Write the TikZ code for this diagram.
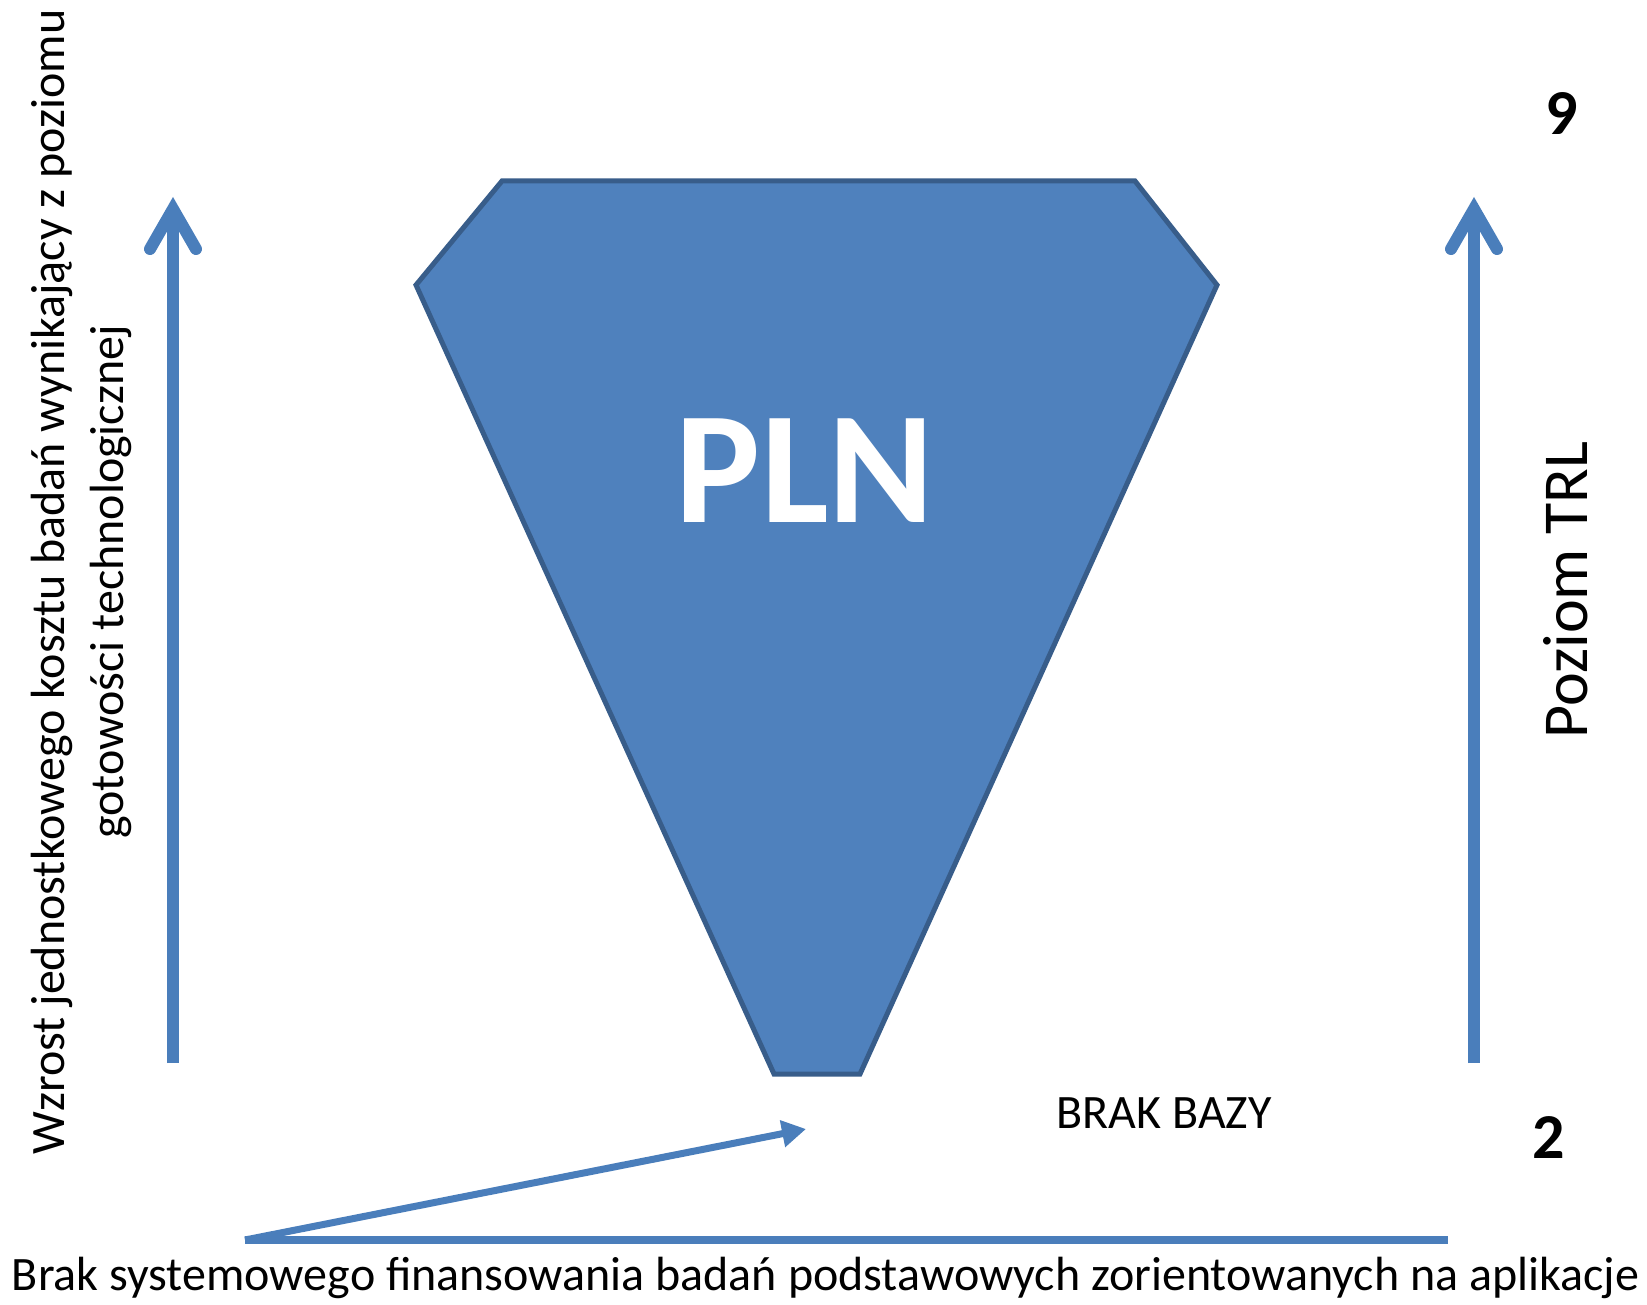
\documentclass[tikz,border=0pt]{standalone}
\usepackage{fontspec}
\setmainfont{Carlito}
\usetikzlibrary{arrows.meta}
\definecolor{arrowblue}{HTML}{4A7EBB}
\definecolor{shapefill}{HTML}{4F81BD}
\definecolor{shapeline}{HTML}{385D8A}
\begin{document}
\begin{tikzpicture}[x=1pt,y=-1pt,
  txt/.style={inner sep=0pt,outer sep=0pt,text=black},
  uparrow/.style={draw=arrowblue,line width=12pt,
    -{Straight Barb[length=40pt,width=46pt,line cap=round,line join=miter]}},
  baseline/.style={draw=arrowblue,line width=7.5pt},
  diagarrow/.style={draw=arrowblue,line width=7pt,-{Triangle[length=24pt,width=26pt]}},
  funnel/.style={fill=shapefill,draw=shapeline,line width=5pt,line join=miter}]
\useasboundingbox (0,0) rectangle (1647,1305);
\fill[white] (0,0) rectangle (1647,1305);
% funnel shape
\draw[funnel] (502,181) -- (1135,181) -- (1217,285) -- (860,1074) -- (774,1074) -- (416,285) -- cycle;
\node[txt,anchor=base,text=white,font=\fontsize{160}{190}\selectfont\bfseries] (pln) at (805,522) {PLN};
% vertical arrows
\coordinate (lb) at (173,1063);
\coordinate (lt) at (173,197);
\coordinate (rb) at (1474,1063);
\coordinate (rt) at (1474,197);
\draw[uparrow] (lb) -- (lt);
\draw[uparrow] (rb) -- (rt);
% bottom lines
\coordinate (o) at (245,1240);
\coordinate (e) at (1448,1240);
\coordinate (d) at (806,1129);
\draw[baseline] (o) -- (e);
\draw[diagarrow] (o) -- (d);
% texts
\node[txt,anchor=base,font=\fontsize{64}{77}\selectfont\bfseries] (nine) at (1562,135) {9};
\node[txt,anchor=base,font=\fontsize{64}{77}\selectfont\bfseries] (two) at (1549,1158) {2};
\node[txt,anchor=base,font=\fontsize{48}{58}\selectfont] (brak) at (1164,1128) {BRAK BAZY};
\node[txt,anchor=base west,font=\fontsize{48}{58}\selectfont] (bottom) at (12,1290) {Brak systemowego finansowania badań podstawowych zorientowanych na aplikacje};
\node[txt,anchor=base,rotate=90,font=\fontsize{64}{77}\selectfont] (trl) at (1587,590) {Poziom TRL};
\node[txt,anchor=center,rotate=90,align=center,font=\fontsize{48}{59}\selectfont] (left) at (81,582) {Wzrost jednostkowego kosztu badań wynikający z poziomu\\gotowości technologicznej};
\end{tikzpicture}
\end{document}
